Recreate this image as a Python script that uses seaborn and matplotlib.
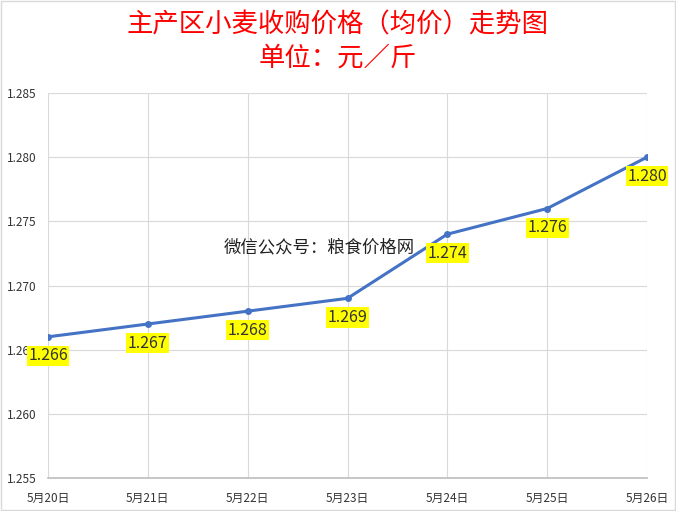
import matplotlib
matplotlib.use("Agg")
import matplotlib.pyplot as plt
import seaborn as sns
import pandas as pd

dates = ["5月20日", "5月21日", "5月22日", "5月23日", "5月24日", "5月25日", "5月26日"]
prices = [1.266, 1.267, 1.268, 1.269, 1.274, 1.276, 1.280]
yticks = [1.255, 1.260, 1.265, 1.270, 1.275, 1.280, 1.285]

sns.set_theme(style="whitegrid")
plt.rcParams['font.family'] = ['Noto Sans CJK SC', 'DejaVu Sans']

df = pd.DataFrame({"date": dates, "price": prices})
fig = plt.figure(figsize=(6.76, 5.11), dpi=100)
ax = fig.add_axes([48/676, 1-478/511, (647-48)/676, (478-93)/511])
sns.lineplot(data=df, x="date", y="price", ax=ax, color="#4472C4", linewidth=2.2,
             marker="o", markersize=5, markeredgewidth=0)
ax.set_ylim(1.255, 1.285)
ax.set_yticks(yticks)
ax.set_yticklabels([f"{v:.3f}" for v in yticks], fontsize=8.5, color="#333333")
ax.set_xlim(-0.0, len(dates)-1)
ax.tick_params(axis='x', labelsize=8.5, colors="#333333", pad=4)
ax.tick_params(axis='y', pad=2)
ax.set_xlabel(""); ax.set_ylabel("")
ax.grid(True, color="#d9d9d9", linewidth=0.8)
for s in ["top", "right", "left"]:
    ax.spines[s].set_visible(False)
ax.spines["bottom"].set_color("#bfbfbf")
for i, p in enumerate(prices):
    ax.annotate(f"{p:.3f}", (i, p), xytext=(0, -17), textcoords="offset points",
                ha="center", fontsize=11.5, color="#333333",
                bbox=dict(boxstyle="square,pad=0.1", fc="#ffff00", ec="none"))
ax.text(2.72, 1.2730, "微信公众号：粮食价格网", ha="center", va="center", fontsize=12.5, color="#222222")
fig.text(0.5, 1-25/511, "主产区小麦收购价格（均价）走势图", ha="center", va="center", fontsize=19, color="#ff0000")
fig.text(0.5, 1-58/511, "单位：元／斤", ha="center", va="center", fontsize=19, color="#ff0000")
fig.patches.append(plt.Rectangle((0.001, 0.001), 0.998, 0.998, transform=fig.transFigure,
                                 fill=False, ec="#d9d9d9", lw=1))
fig.savefig("out.png", dpi=100)
